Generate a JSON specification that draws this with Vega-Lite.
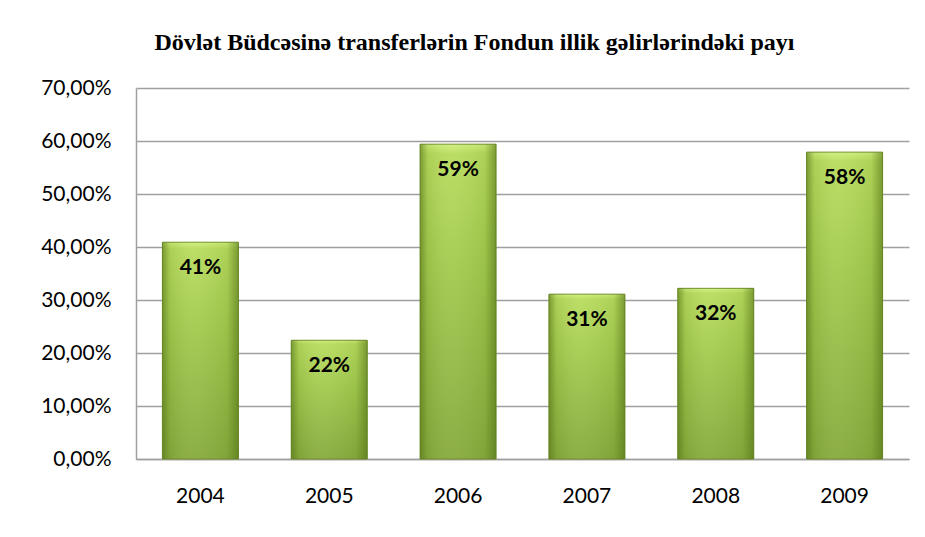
{
  "$schema": "https://vega.github.io/schema/vega-lite/v6.json",
  "width": 773,
  "height": 371,
  "autosize": "none",
  "padding": {"left": 136, "top": 88, "right": 16, "bottom": 78},
  "background": "white",
  "title": {
    "text": "Dövlət Büdcəsinə transferlərin Fondun illik gəlirlərindəki payı",
    "font": "Liberation Serif",
    "fontSize": 24,
    "fontWeight": "bold",
    "color": "#000000",
    "anchor": "middle",
    "offset": 22,
    "dx": -48
  },
  "data": {
    "values": [
      {"year": "2004", "share": 0.409},
      {"year": "2005", "share": 0.224},
      {"year": "2006", "share": 0.594},
      {"year": "2007", "share": 0.311},
      {"year": "2008", "share": 0.322},
      {"year": "2009", "share": 0.579}
    ]
  },
  "encoding": {
    "x": {
      "field": "year",
      "type": "nominal",
      "scale": {"paddingInner": 0.41, "paddingOuter": 0.205},
      "axis": {
        "title": null,
        "labelAngle": 0,
        "labelFont": "Lato",
        "labelFontSize": 21,
        "labelColor": "#000000",
        "labelPadding": 26,
        "ticks": false,
        "domainColor": "#a0a0a0",
        "domainWidth": 1.5,
        "grid": false
      }
    },
    "y": {
      "field": "share",
      "type": "quantitative",
      "scale": {"domain": [0, 0.7], "nice": false},
      "axis": {
        "title": null,
        "values": [0, 0.1, 0.2, 0.3, 0.4, 0.5, 0.6, 0.7],
        "labelExpr": "replace(format(datum.value, '.2%'), '.', ',')",
        "labelFont": "Lato",
        "labelFontSize": 21,
        "labelColor": "#000000",
        "labelPadding": 25,
        "ticks": false,
        "domainColor": "#a0a0a0",
        "domainWidth": 1.5,
        "grid": true,
        "gridColor": "#a0a0a0",
        "gridWidth": 1.5
      }
    }
  },
  "layer": [
    {
      "mark": {
        "type": "bar",
        "color": {
          "gradient": "linear",
          "x1": 0, "y1": 0, "x2": 0, "y2": 1,
          "stops": [
            {"offset": 0, "color": "#d2f07a"},
            {"offset": 0.03, "color": "#b8dc5e"},
            {"offset": 0.4, "color": "#a2ca4e"},
            {"offset": 1, "color": "#86aa3c"}
          ]
        },
        "stroke": "#6e8f2a",
        "strokeWidth": 1
      }
    },
    {
      "mark": {
        "type": "bar",
        "color": {
          "gradient": "linear",
          "x1": 0, "y1": 0, "x2": 1, "y2": 0,
          "stops": [
            {"offset": 0, "color": "rgba(80,110,20,0.6)"},
            {"offset": 0.1, "color": "rgba(80,110,20,0.12)"},
            {"offset": 0.4, "color": "rgba(255,255,255,0.05)"},
            {"offset": 0.85, "color": "rgba(80,110,20,0.1)"},
            {"offset": 1, "color": "rgba(80,110,20,0.6)"}
          ]
        }
      }
    },
    {
      "mark": {
        "type": "text",
        "baseline": "top",
        "dy": 15,
        "font": "Lato",
        "fontSize": 21,
        "fontWeight": "bold",
        "color": "#000000"
      },
      "encoding": {
        "text": {"field": "share", "type": "quantitative", "format": ".0%"}
      }
    }
  ],
  "config": {
    "view": {"stroke": null}
  }
}
